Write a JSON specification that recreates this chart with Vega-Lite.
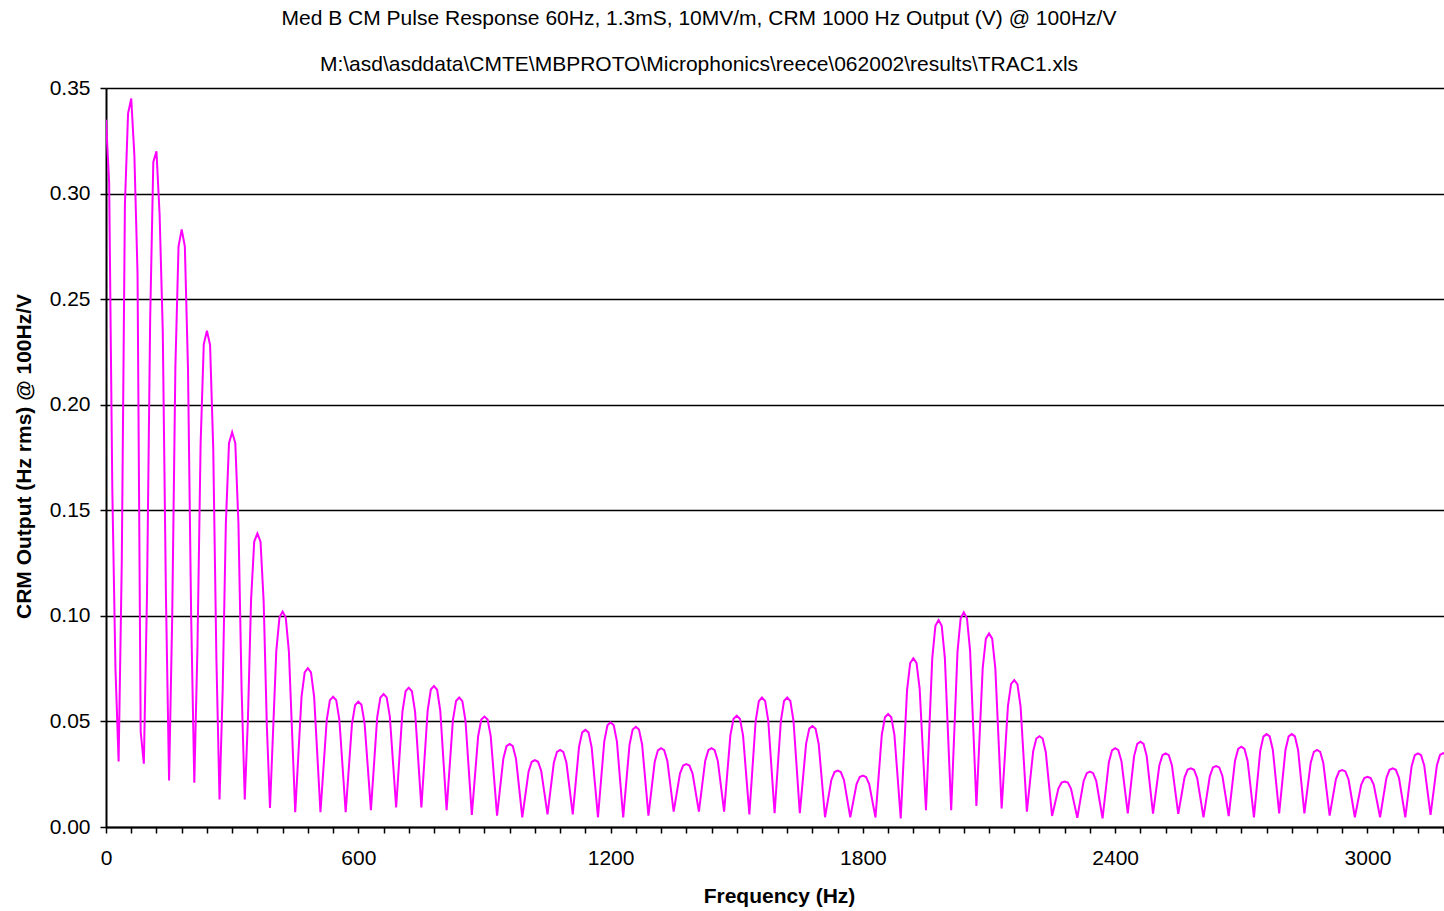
{
  "$schema": "https://vega.github.io/schema/vega-lite/v6.json",
  "width": 1338,
  "height": 739,
  "autosize": {"type": "none"},
  "padding": {"left": 106, "top": 88, "right": 0, "bottom": 84},
  "background": "white",
  "config": {"view": {"stroke": null}},
  "title": {
    "text": "Med B CM Pulse Response 60Hz, 1.3mS, 10MV/m, CRM 1000 Hz Output (V) @ 100Hz/V",
    "subtitle": "M:\\asd\\asddata\\CMTE\\MBPROTO\\Microphonics\\reece\\062002\\results\\TRAC1.xls",
    "anchor": "middle",
    "dx": -76,
    "font": "Liberation Sans",
    "fontSize": 21,
    "fontWeight": "normal",
    "color": "black",
    "subtitleFont": "Liberation Sans",
    "subtitleFontSize": 21,
    "subtitleColor": "black",
    "subtitlePadding": 25,
    "offset": 2
  },
  "data": {
    "values": [
      {"hz": 0, "out": 0.335}, {"hz": 7.5, "out": 0.305}, {"hz": 15, "out": 0.16}, {"hz": 22.5, "out": 0.075}, {"hz": 30, "out": 0.031},
      {"hz": 37.5, "out": 0.125}, {"hz": 45, "out": 0.295}, {"hz": 52.5, "out": 0.338}, {"hz": 60, "out": 0.345}, {"hz": 67.5, "out": 0.318}, {"hz": 75, "out": 0.262}, {"hz": 82.5, "out": 0.045}, {"hz": 90, "out": 0.030},
      {"hz": 97.5, "out": 0.11}, {"hz": 105, "out": 0.24}, {"hz": 112.5, "out": 0.315}, {"hz": 120, "out": 0.320}, {"hz": 127.5, "out": 0.29}, {"hz": 135, "out": 0.235}, {"hz": 142.5, "out": 0.11}, {"hz": 150, "out": 0.022},
      {"hz": 157.5, "out": 0.100}, {"hz": 165, "out": 0.218}, {"hz": 172.5, "out": 0.275}, {"hz": 180, "out": 0.283}, {"hz": 187.5, "out": 0.275}, {"hz": 195, "out": 0.217}, {"hz": 202.5, "out": 0.100}, {"hz": 210, "out": 0.021},
      {"hz": 217.5, "out": 0.085}, {"hz": 225, "out": 0.1815}, {"hz": 232.5, "out": 0.2286}, {"hz": 240, "out": 0.235}, {"hz": 247.5, "out": 0.2283}, {"hz": 255, "out": 0.1795}, {"hz": 262.5, "out": 0.080}, {"hz": 270, "out": 0.013},
      {"hz": 277.5, "out": 0.065}, {"hz": 285, "out": 0.1435}, {"hz": 292.5, "out": 0.1818}, {"hz": 300, "out": 0.187}, {"hz": 307.5, "out": 0.1818}, {"hz": 315, "out": 0.1435}, {"hz": 322.5, "out": 0.065}, {"hz": 330, "out": 0.013},
      {"hz": 337.5, "out": 0.051}, {"hz": 345, "out": 0.1075}, {"hz": 352.5, "out": 0.1352}, {"hz": 360, "out": 0.139}, {"hz": 367.5, "out": 0.1351}, {"hz": 375, "out": 0.1065}, {"hz": 382.5, "out": 0.048}, {"hz": 390, "out": 0.009},
      {"hz": 397.5, "out": 0.0462}, {"hz": 405, "out": 0.0834}, {"hz": 412.5, "out": 0.0992}, {"hz": 420, "out": 0.102}, {"hz": 427.5, "out": 0.0992}, {"hz": 435, "out": 0.083}, {"hz": 442.5, "out": 0.045}, {"hz": 450, "out": 0.007},
      {"hz": 457.5, "out": 0.0343}, {"hz": 465, "out": 0.0616}, {"hz": 472.5, "out": 0.0732}, {"hz": 480, "out": 0.0752}, {"hz": 487.5, "out": 0.0732}, {"hz": 495, "out": 0.0616}, {"hz": 502.5, "out": 0.0343}, {"hz": 510, "out": 0.007},
      {"hz": 517.5, "out": 0.0289}, {"hz": 525, "out": 0.0508}, {"hz": 532.5, "out": 0.0601}, {"hz": 540, "out": 0.0617}, {"hz": 547.5, "out": 0.0601}, {"hz": 555, "out": 0.0508}, {"hz": 562.5, "out": 0.0289}, {"hz": 570, "out": 0.007},
      {"hz": 577.5, "out": 0.028}, {"hz": 585, "out": 0.0489}, {"hz": 592.5, "out": 0.0578}, {"hz": 600, "out": 0.0594}, {"hz": 607.5, "out": 0.0579}, {"hz": 615, "out": 0.0491}, {"hz": 622.5, "out": 0.0286}, {"hz": 630, "out": 0.008},
      {"hz": 637.5, "out": 0.030}, {"hz": 645, "out": 0.052}, {"hz": 652.5, "out": 0.0613}, {"hz": 660, "out": 0.063}, {"hz": 667.5, "out": 0.0614}, {"hz": 675, "out": 0.0523}, {"hz": 682.5, "out": 0.0308}, {"hz": 690, "out": 0.0093},
      {"hz": 697.5, "out": 0.032}, {"hz": 705, "out": 0.0547}, {"hz": 712.5, "out": 0.0643}, {"hz": 720, "out": 0.066}, {"hz": 727.5, "out": 0.0643}, {"hz": 735, "out": 0.0547}, {"hz": 742.5, "out": 0.032}, {"hz": 750, "out": 0.0093},
      {"hz": 757.5, "out": 0.0323}, {"hz": 765, "out": 0.0553}, {"hz": 772.5, "out": 0.0651}, {"hz": 780, "out": 0.0668}, {"hz": 787.5, "out": 0.065}, {"hz": 795, "out": 0.055}, {"hz": 802.5, "out": 0.0315}, {"hz": 810, "out": 0.008},
      {"hz": 817.5, "out": 0.0293}, {"hz": 825, "out": 0.0506}, {"hz": 832.5, "out": 0.0597}, {"hz": 840, "out": 0.0613}, {"hz": 847.5, "out": 0.0596}, {"hz": 855, "out": 0.0502}, {"hz": 862.5, "out": 0.0279}, {"hz": 870, "out": 0.0057},
      {"hz": 877.5, "out": 0.0243}, {"hz": 885, "out": 0.043}, {"hz": 892.5, "out": 0.0509}, {"hz": 900, "out": 0.0523}, {"hz": 907.5, "out": 0.0509}, {"hz": 915, "out": 0.0429}, {"hz": 922.5, "out": 0.0242}, {"hz": 930, "out": 0.0054},
      {"hz": 937.5, "out": 0.019}, {"hz": 945, "out": 0.0325}, {"hz": 952.5, "out": 0.0383}, {"hz": 960, "out": 0.0393}, {"hz": 967.5, "out": 0.0383}, {"hz": 975, "out": 0.0324}, {"hz": 982.5, "out": 0.0185}, {"hz": 990, "out": 0.0046},
      {"hz": 997.5, "out": 0.0154}, {"hz": 1005, "out": 0.0263}, {"hz": 1012.5, "out": 0.0309}, {"hz": 1020, "out": 0.0317}, {"hz": 1027.5, "out": 0.0309}, {"hz": 1035, "out": 0.0266}, {"hz": 1042.5, "out": 0.0163}, {"hz": 1050, "out": 0.006},
      {"hz": 1057.5, "out": 0.0182}, {"hz": 1065, "out": 0.0304}, {"hz": 1072.5, "out": 0.0356}, {"hz": 1080, "out": 0.0365}, {"hz": 1087.5, "out": 0.0356}, {"hz": 1095, "out": 0.0304}, {"hz": 1102.5, "out": 0.0182}, {"hz": 1110, "out": 0.006},
      {"hz": 1117.5, "out": 0.022}, {"hz": 1125, "out": 0.038}, {"hz": 1132.5, "out": 0.0448}, {"hz": 1140, "out": 0.046}, {"hz": 1147.5, "out": 0.0448}, {"hz": 1155, "out": 0.0377}, {"hz": 1162.5, "out": 0.0212}, {"hz": 1170, "out": 0.0046},
      {"hz": 1177.5, "out": 0.0226}, {"hz": 1185, "out": 0.0406}, {"hz": 1192.5, "out": 0.0482}, {"hz": 1200, "out": 0.0496}, {"hz": 1207.5, "out": 0.0482}, {"hz": 1215, "out": 0.0406}, {"hz": 1222.5, "out": 0.0225}, {"hz": 1230, "out": 0.0045},
      {"hz": 1237.5, "out": 0.0217}, {"hz": 1245, "out": 0.0389}, {"hz": 1252.5, "out": 0.0462}, {"hz": 1260, "out": 0.0475}, {"hz": 1267.5, "out": 0.0462}, {"hz": 1275, "out": 0.0391}, {"hz": 1282.5, "out": 0.0222}, {"hz": 1290, "out": 0.0054},
      {"hz": 1297.5, "out": 0.0182}, {"hz": 1305, "out": 0.0309}, {"hz": 1312.5, "out": 0.0363}, {"hz": 1320, "out": 0.0373}, {"hz": 1327.5, "out": 0.0364}, {"hz": 1335, "out": 0.0313}, {"hz": 1342.5, "out": 0.0193}, {"hz": 1350, "out": 0.0073},
      {"hz": 1357.5, "out": 0.0163}, {"hz": 1365, "out": 0.0253}, {"hz": 1372.5, "out": 0.0291}, {"hz": 1380, "out": 0.0298}, {"hz": 1387.5, "out": 0.0291}, {"hz": 1395, "out": 0.0253}, {"hz": 1402.5, "out": 0.0163}, {"hz": 1410, "out": 0.0073},
      {"hz": 1417.5, "out": 0.0193}, {"hz": 1425, "out": 0.0313}, {"hz": 1432.5, "out": 0.0364}, {"hz": 1440, "out": 0.0373}, {"hz": 1447.5, "out": 0.0364}, {"hz": 1455, "out": 0.0313}, {"hz": 1462.5, "out": 0.0193}, {"hz": 1470, "out": 0.0073},
      {"hz": 1477.5, "out": 0.0255}, {"hz": 1485, "out": 0.0436}, {"hz": 1492.5, "out": 0.0513}, {"hz": 1500, "out": 0.0527}, {"hz": 1507.5, "out": 0.0513}, {"hz": 1515, "out": 0.0434}, {"hz": 1522.5, "out": 0.0247}, {"hz": 1530, "out": 0.006},
      {"hz": 1537.5, "out": 0.0281}, {"hz": 1545, "out": 0.0502}, {"hz": 1552.5, "out": 0.0596}, {"hz": 1560, "out": 0.0613}, {"hz": 1567.5, "out": 0.0597}, {"hz": 1575, "out": 0.0503}, {"hz": 1582.5, "out": 0.0284}, {"hz": 1590, "out": 0.0065},
      {"hz": 1597.5, "out": 0.0284}, {"hz": 1605, "out": 0.0503}, {"hz": 1612.5, "out": 0.0597}, {"hz": 1620, "out": 0.0613}, {"hz": 1627.5, "out": 0.0597}, {"hz": 1635, "out": 0.0503}, {"hz": 1642.5, "out": 0.0284}, {"hz": 1650, "out": 0.0065},
      {"hz": 1657.5, "out": 0.023}, {"hz": 1665, "out": 0.0395}, {"hz": 1672.5, "out": 0.0466}, {"hz": 1680, "out": 0.0478}, {"hz": 1687.5, "out": 0.0465}, {"hz": 1695, "out": 0.0392}, {"hz": 1702.5, "out": 0.0219}, {"hz": 1710, "out": 0.0046},
      {"hz": 1717.5, "out": 0.0134}, {"hz": 1725, "out": 0.0223}, {"hz": 1732.5, "out": 0.026}, {"hz": 1740, "out": 0.0267}, {"hz": 1747.5, "out": 0.026}, {"hz": 1755, "out": 0.0223}, {"hz": 1762.5, "out": 0.0134}, {"hz": 1770, "out": 0.0046},
      {"hz": 1777.5, "out": 0.0125}, {"hz": 1785, "out": 0.0203}, {"hz": 1792.5, "out": 0.0237}, {"hz": 1800, "out": 0.0243}, {"hz": 1807.5, "out": 0.0237}, {"hz": 1815, "out": 0.0203}, {"hz": 1822.5, "out": 0.0124}, {"hz": 1830, "out": 0.0045},
      {"hz": 1837.5, "out": 0.0241}, {"hz": 1845, "out": 0.0437}, {"hz": 1852.5, "out": 0.052}, {"hz": 1860, "out": 0.0535}, {"hz": 1867.5, "out": 0.052}, {"hz": 1875, "out": 0.0436}, {"hz": 1882.5, "out": 0.0239}, {"hz": 1890, "out": 0.0041},
      {"hz": 1897.5, "out": 0.0344}, {"hz": 1905, "out": 0.0647}, {"hz": 1912.5, "out": 0.0776}, {"hz": 1920, "out": 0.0799}, {"hz": 1927.5, "out": 0.0777}, {"hz": 1935, "out": 0.0655}, {"hz": 1942.5, "out": 0.0368}, {"hz": 1950, "out": 0.008},
      {"hz": 1957.5, "out": 0.044}, {"hz": 1965, "out": 0.080}, {"hz": 1972.5, "out": 0.0953}, {"hz": 1980, "out": 0.098}, {"hz": 1987.5, "out": 0.0953}, {"hz": 1995, "out": 0.080}, {"hz": 2002.5, "out": 0.044}, {"hz": 2010, "out": 0.008},
      {"hz": 2017.5, "out": 0.0455}, {"hz": 2025, "out": 0.083}, {"hz": 2032.5, "out": 0.0989}, {"hz": 2040, "out": 0.1017}, {"hz": 2047.5, "out": 0.0989}, {"hz": 2055, "out": 0.0834}, {"hz": 2062.5, "out": 0.0467}, {"hz": 2070, "out": 0.010},
      {"hz": 2077.5, "out": 0.0427}, {"hz": 2085, "out": 0.0754}, {"hz": 2092.5, "out": 0.0892}, {"hz": 2100, "out": 0.0917}, {"hz": 2107.5, "out": 0.0892}, {"hz": 2115, "out": 0.0751}, {"hz": 2122.5, "out": 0.042}, {"hz": 2130, "out": 0.0088},
      {"hz": 2137.5, "out": 0.0331}, {"hz": 2145, "out": 0.0574}, {"hz": 2152.5, "out": 0.0678}, {"hz": 2160, "out": 0.0696}, {"hz": 2167.5, "out": 0.0677}, {"hz": 2175, "out": 0.0571}, {"hz": 2182.5, "out": 0.0322}, {"hz": 2190, "out": 0.0073},
      {"hz": 2197.5, "out": 0.0216}, {"hz": 2205, "out": 0.0359}, {"hz": 2212.5, "out": 0.0419}, {"hz": 2220, "out": 0.043}, {"hz": 2227.5, "out": 0.0419}, {"hz": 2235, "out": 0.0354}, {"hz": 2242.5, "out": 0.0203}, {"hz": 2250, "out": 0.0052},
      {"hz": 2257.5, "out": 0.0117}, {"hz": 2265, "out": 0.0182}, {"hz": 2272.5, "out": 0.021}, {"hz": 2280, "out": 0.0215}, {"hz": 2287.5, "out": 0.021}, {"hz": 2295, "out": 0.0181}, {"hz": 2302.5, "out": 0.0112}, {"hz": 2310, "out": 0.0044},
      {"hz": 2317.5, "out": 0.0132}, {"hz": 2325, "out": 0.0218}, {"hz": 2332.5, "out": 0.0255}, {"hz": 2340, "out": 0.0262}, {"hz": 2347.5, "out": 0.0255}, {"hz": 2355, "out": 0.0218}, {"hz": 2362.5, "out": 0.0129}, {"hz": 2370, "out": 0.0041},
      {"hz": 2377.5, "out": 0.0174}, {"hz": 2385, "out": 0.0307}, {"hz": 2392.5, "out": 0.0363}, {"hz": 2400, "out": 0.0373}, {"hz": 2407.5, "out": 0.0364}, {"hz": 2415, "out": 0.0311}, {"hz": 2422.5, "out": 0.0188}, {"hz": 2430, "out": 0.0065},
      {"hz": 2437.5, "out": 0.0201}, {"hz": 2445, "out": 0.0336}, {"hz": 2452.5, "out": 0.0394}, {"hz": 2460, "out": 0.0404}, {"hz": 2467.5, "out": 0.0394}, {"hz": 2475, "out": 0.0336}, {"hz": 2482.5, "out": 0.0199}, {"hz": 2490, "out": 0.0063},
      {"hz": 2497.5, "out": 0.0177}, {"hz": 2505, "out": 0.0292}, {"hz": 2512.5, "out": 0.034}, {"hz": 2520, "out": 0.0349}, {"hz": 2527.5, "out": 0.034}, {"hz": 2535, "out": 0.0292}, {"hz": 2542.5, "out": 0.0176}, {"hz": 2550, "out": 0.0062},
      {"hz": 2557.5, "out": 0.0148}, {"hz": 2565, "out": 0.0235}, {"hz": 2572.5, "out": 0.0272}, {"hz": 2580, "out": 0.0278}, {"hz": 2587.5, "out": 0.0271}, {"hz": 2595, "out": 0.0232}, {"hz": 2602.5, "out": 0.0139}, {"hz": 2610, "out": 0.0046},
      {"hz": 2617.5, "out": 0.0143}, {"hz": 2625, "out": 0.024}, {"hz": 2632.5, "out": 0.0282}, {"hz": 2640, "out": 0.0289}, {"hz": 2647.5, "out": 0.0282}, {"hz": 2655, "out": 0.0242}, {"hz": 2662.5, "out": 0.0147}, {"hz": 2670, "out": 0.0052},
      {"hz": 2677.5, "out": 0.0183}, {"hz": 2685, "out": 0.0314}, {"hz": 2692.5, "out": 0.037}, {"hz": 2700, "out": 0.038}, {"hz": 2707.5, "out": 0.037}, {"hz": 2715, "out": 0.0313}, {"hz": 2722.5, "out": 0.018}, {"hz": 2730, "out": 0.0046},
      {"hz": 2737.5, "out": 0.0204}, {"hz": 2745, "out": 0.0361}, {"hz": 2752.5, "out": 0.0428}, {"hz": 2760, "out": 0.044}, {"hz": 2767.5, "out": 0.0429}, {"hz": 2775, "out": 0.0365}, {"hz": 2782.5, "out": 0.0215}, {"hz": 2790, "out": 0.0065},
      {"hz": 2797.5, "out": 0.0215}, {"hz": 2805, "out": 0.0365}, {"hz": 2812.5, "out": 0.0429}, {"hz": 2820, "out": 0.044}, {"hz": 2827.5, "out": 0.0429}, {"hz": 2835, "out": 0.0365}, {"hz": 2842.5, "out": 0.0215}, {"hz": 2850, "out": 0.0065},
      {"hz": 2857.5, "out": 0.0185}, {"hz": 2865, "out": 0.0305}, {"hz": 2872.5, "out": 0.0356}, {"hz": 2880, "out": 0.0365}, {"hz": 2887.5, "out": 0.0356}, {"hz": 2895, "out": 0.0303}, {"hz": 2902.5, "out": 0.0178}, {"hz": 2910, "out": 0.0054},
      {"hz": 2917.5, "out": 0.014}, {"hz": 2925, "out": 0.0227}, {"hz": 2932.5, "out": 0.0264}, {"hz": 2940, "out": 0.027}, {"hz": 2947.5, "out": 0.0263}, {"hz": 2955, "out": 0.0225}, {"hz": 2962.5, "out": 0.0136}, {"hz": 2970, "out": 0.0046},
      {"hz": 2977.5, "out": 0.0123}, {"hz": 2985, "out": 0.02}, {"hz": 2992.5, "out": 0.0232}, {"hz": 3000, "out": 0.0238}, {"hz": 3007.5, "out": 0.0232}, {"hz": 3015, "out": 0.02}, {"hz": 3022.5, "out": 0.0123}, {"hz": 3030, "out": 0.0046},
      {"hz": 3037.5, "out": 0.0139}, {"hz": 3045, "out": 0.0232}, {"hz": 3052.5, "out": 0.0271}, {"hz": 3060, "out": 0.0278}, {"hz": 3067.5, "out": 0.0271}, {"hz": 3075, "out": 0.0232}, {"hz": 3082.5, "out": 0.0139}, {"hz": 3090, "out": 0.0046},
      {"hz": 3097.5, "out": 0.0167}, {"hz": 3105, "out": 0.0288}, {"hz": 3112.5, "out": 0.034}, {"hz": 3120, "out": 0.0349}, {"hz": 3127.5, "out": 0.034}, {"hz": 3135, "out": 0.0291}, {"hz": 3142.5, "out": 0.0174}, {"hz": 3150, "out": 0.0057},
      {"hz": 3157.5, "out": 0.0174}, {"hz": 3165, "out": 0.0291}, {"hz": 3172.5, "out": 0.0341}, {"hz": 3180, "out": 0.035}, {"hz": 3187.5, "out": 0.0341}
    ]
  },
  "mark": {"type": "line", "color": "#FF00FF", "strokeWidth": 2, "clip": true},
  "encoding": {
    "x": {
      "field": "hz",
      "type": "quantitative",
      "scale": {"domain": [0, 3182], "nice": false, "zero": false},
      "axis": {
        "title": "Frequency (Hz)",
        "values": [0, 60, 120, 180, 240, 300, 360, 420, 480, 540, 600, 660, 720, 780, 840, 900, 960, 1020, 1080, 1140, 1200, 1260, 1320, 1380, 1440, 1500, 1560, 1620, 1680, 1740, 1800, 1860, 1920, 1980, 2040, 2100, 2160, 2220, 2280, 2340, 2400, 2460, 2520, 2580, 2640, 2700, 2760, 2820, 2880, 2940, 3000, 3060, 3120, 3180],
        "format": "d",
        "labelExpr": "datum.value % 600 === 0 ? datum.label : ''",
        "labelOverlap": false,
        "labelFlush": false,
        "grid": false,
        "domainColor": "black",
        "domainWidth": 2,
        "tickColor": "black",
        "tickWidth": 1.5,
        "tickSize": 6,
        "labelFont": "Liberation Sans",
        "labelFontSize": 21,
        "labelColor": "black",
        "labelPadding": 14,
        "titleFont": "Liberation Sans",
        "titleFontSize": 21,
        "titleFontWeight": "bold",
        "titleColor": "black",
        "titleBaseline": "top",
        "titleX": 673,
        "titleY": 58
      }
    },
    "y": {
      "field": "out",
      "type": "quantitative",
      "scale": {"domain": [0, 0.35], "nice": false},
      "axis": {
        "title": "CRM Output (Hz rms) @ 100Hz/V",
        "values": [0, 0.05, 0.1, 0.15, 0.2, 0.25, 0.3, 0.35],
        "format": ".2f",
        "grid": true,
        "gridColor": "black",
        "gridWidth": 1.5,
        "gridOpacity": 1,
        "domainColor": "black",
        "domainWidth": 2,
        "tickColor": "black",
        "tickWidth": 1.5,
        "tickSize": 6,
        "labelFont": "Liberation Sans",
        "labelFontSize": 21,
        "labelColor": "black",
        "labelPadding": 10,
        "titleFont": "Liberation Sans",
        "titleFontSize": 21,
        "titleFontWeight": "bold",
        "titleColor": "black",
        "titleX": -72,
        "titleY": 368
      }
    }
  }
}
